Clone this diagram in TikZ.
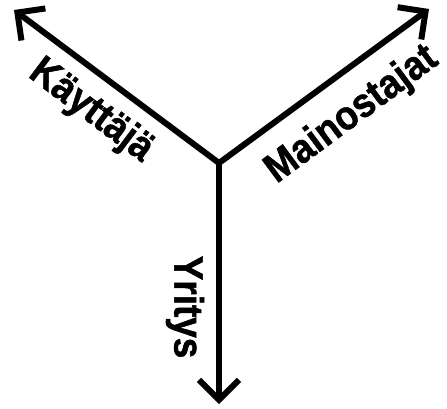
\documentclass[tikz,border=0pt]{standalone}
\usepackage{fontspec}
\setmainfont{Liberation Sans}[BoldFeatures={FakeBold=1.2,FakeStretch=0.9}]
\usetikzlibrary{arrows.meta}
\tikzset{
  axis/.style={line width=6pt, -{Straight Barb[length=20pt,width=40pt,line width=6pt]}},
  lbl/.style={font=\fontsize{41}{44}\selectfont\bfseries, inner sep=0pt}
}
\begin{document}
\begin{tikzpicture}[x=1pt,y=-1pt]
\useasboundingbox (0,0) rectangle (447,409);
\coordinate (o) at (219,163);
\coordinate (ul) at (14,10);
\coordinate (ur) at (429,9);
\coordinate (dn) at (219,404);
\draw[axis] (o) -- (ul);
\draw[axis] (o) -- (ur);
\draw[axis] (o) -- (dn);
\node[lbl, rotate=-37] (k) at (91,111) {Käyttäjä};
\node[lbl, rotate=36.5] (m) at (352,115) {Mainostajat};
\node[lbl, rotate=-90] (y) at (185,307) {Yritys};
\end{tikzpicture}
\end{document}
